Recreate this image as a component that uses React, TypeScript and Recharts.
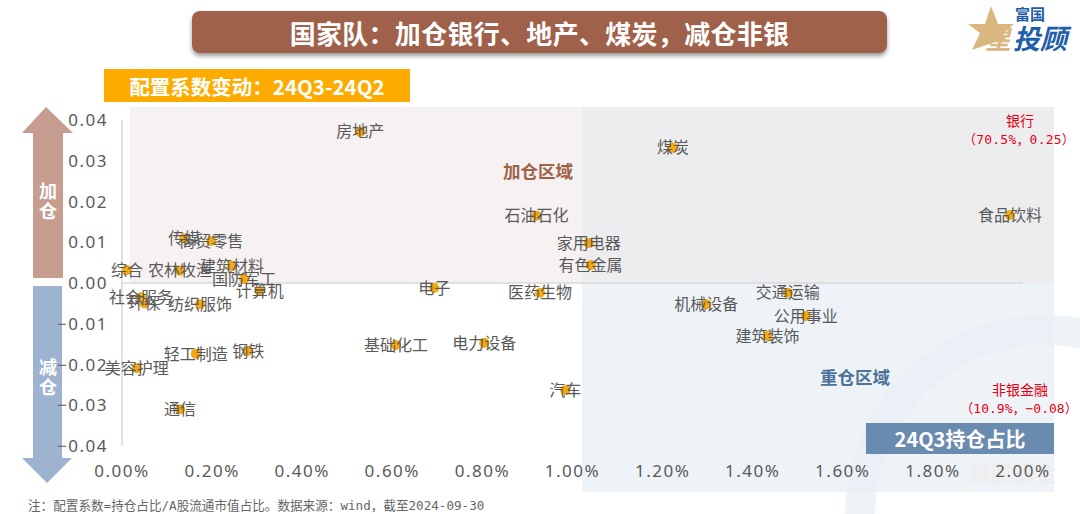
import { ScatterChart, Scatter, XAxis, YAxis, ZAxis, ReferenceLine, LabelList } from "recharts";

const sectors = [
  "房地产", "煤炭", "石油石化", "家用电器", "有色金属", "食品饮料", "传媒", "商贸零售",
  "建筑材料", "农林牧渔", "综合", "国防军工", "计算机", "电子", "医药生物", "社会服务",
  "环保", "纺织服饰", "美容护理", "轻工制造", "钢铁", "通信", "基础化工", "电力设备",
  "汽车", "机械设备", "交通运输", "公用事业", "建筑装饰",
];
// 24Q3 holding share, %
const holdings = [
  0.529, 1.223, 0.92, 1.036, 1.04, 1.971, 0.138, 0.198,
  0.244, 0.129, 0.011, 0.271, 0.306, 0.693, 0.928, 0.042,
  0.05, 0.173, 0.033, 0.164, 0.28, 0.129, 0.608, 0.804,
  0.984, 1.297, 1.478, 1.518, 1.433,
];
// allocation coefficient change, 24Q3-24Q2
const changes = [
  0.0371, 0.0332, 0.0165, 0.0098, 0.0044, 0.0167, 0.011, 0.0103,
  0.0042, 0.003, 0.0032, 0.001, -0.002, -0.0012, -0.0024, -0.0035,
  -0.005, -0.0052, -0.0209, -0.0174, -0.0167, -0.031, -0.0152, -0.0147,
  -0.0263, -0.0052, -0.0024, -0.0081, -0.013,
];
const xTicks = [0, 0.2, 0.4, 0.6, 0.8, 1, 1.2, 1.4, 1.6, 1.8, 2];
const yTicks = [-0.04, -0.03, -0.02, -0.01, 0, 0.01, 0.02, 0.03, 0.04];

const data = sectors.map((name, i) => ({ name, x: holdings[i], y: changes[i], z: 1 }));

// full-width punctuation, written as escapes so it stays full-width
const COLON = "\uFF1A";
const COMMA = "\uFF0C";
const titleText = "国家队" + COLON + "加仓银行、地产、煤炭" + COMMA + "减仓非银";
const subTitleText = "配置系数变动" + COLON + "24Q3-24Q2";
const noteText = "注" + COLON + "配置系数=持仓占比/A股流通市值占比。数据来源" + COLON + "wind" + COMMA + "截至2024-09-30";
const bankText = "\uFF0870.5%" + COMMA + "0.25\uFF09";
const nonBankText = "\uFF0810.9%" + COMMA + "\u22120.08\uFF09";

const cjk = '"Noto Sans CJK SC", sans-serif';
const mono = '"DejaVu Sans Mono", ' + cjk;
const tickStyle = { fontSize: 17, fill: "#595959", fontFamily: '"Noto Sans", sans-serif', letterSpacing: 1.5 };

function Box({ x, y, w, h, style, children }: any) {
  return (
    <div
      style={{
        position: "absolute",
        left: x,
        top: y,
        width: w,
        height: h,
        display: "flex",
        alignItems: "center",
        justifyContent: "center",
        fontFamily: cjk,
        whiteSpace: "nowrap",
        ...style,
      }}
    >
      {children}
    </div>
  );
}

function Decor() {
  return (
    <svg width={1080} height={514} style={{ position: "absolute", left: 0, top: 0 }}>
      <polygon points="46,107 73,133 63,133 63,278 33,278 33,133 22,133" fill="#c79d8f" />
      <polygon points="33,286 62,286 62,458 72,458 47,483 22,458 33,458" fill="#9db3cf" />
      {/* logo star */}
      <polygon points="991,6 998,24 1014,24 1003,33 1006,40 1000,40 972,50 980,33 968,24 985,24" fill="#d9b77e" />
    </svg>
  );
}

export default function App() {
  return (
    <div style={{ position: "absolute", left: 0, top: 0, width: 1080, height: 514, background: "#fff", overflow: "hidden" }}>
      {/* shaded regions and watermark */}
      <div style={{ position: "absolute", left: 130, top: 107, width: 924, height: 176, background: "#f5f2f1" }} />
      <div style={{ position: "absolute", left: 582, top: 107, width: 472, height: 176, background: "#ededef" }} />
      <svg width={1080} height={514} style={{ position: "absolute", left: 0, top: 0 }}>
        <circle cx={1045} cy={515} r={185} fill="none" stroke="#eef3f7" strokeWidth={30} />
      </svg>
      <div style={{ position: "absolute", left: 582, top: 283, width: 472, height: 209, background: "rgba(232,239,246,0.75)" }} />
      <Box x={960} y={458} w={105} h={26} style={{ fontSize: 22, fontWeight: 700, color: "#eeeeee" }}>富国基金</Box>

      <Decor />

      <div style={{ position: "absolute", left: 0, top: 0 }}>
        <ScatterChart
          width={1080}
          height={514}
          margin={{ top: 120, right: 57, bottom: 0, left: 62 }}
          style={{ fontFamily: cjk }}
        >
          <XAxis
            type="number"
            dataKey="x"
            domain={[0, 2]}
            ticks={xTicks}
            interval={0}
            height={68}
            axisLine={false}
            tickLine={false}
            tickMargin={13}
            tick={tickStyle}
            tickFormatter={(v: number) => v.toFixed(2) + "%"}
          />
          <YAxis
            type="number"
            dataKey="y"
            domain={[-0.04, 0.04]}
            ticks={yTicks}
            interval={0}
            width={60}
            axisLine={{ stroke: "#d9d9d9", strokeWidth: 1.5 }}
            tickLine={false}
            tickMargin={8}
            tick={tickStyle}
            tickFormatter={(v: number) => v.toFixed(2).replace("-", "\u2212")}
          />
          <ZAxis type="number" dataKey="z" range={[80, 80]} />
          <ReferenceLine y={0} stroke="#d9d9d9" strokeWidth={1.5} />
          <Scatter data={data} fill="#f5a90f" isAnimationActive={false}>
            <LabelList dataKey="name" position="center" fill="#595959" fontSize={16} fontFamily={cjk} />
          </Scatter>
        </ScatterChart>
      </div>

      {/* title bars */}
      <Box
        x={192}
        y={11}
        w={695}
        h={42}
        style={{ background: "#a0614a", borderRadius: 8, boxShadow: "0 3px 4px rgba(0,0,0,0.4)", color: "#fff", fontSize: 26, fontWeight: 700, letterSpacing: 0.3 }}
      >
        {titleText}
      </Box>
      <Box x={104} y={69} w={306} h={33} style={{ background: "#fdab00", color: "#fff", fontSize: 20.5, fontWeight: 700 }}>
        {subTitleText}
      </Box>
      <Box x={866} y={423} w={188} h={31} style={{ background: "#6a8bb0", color: "#fff", fontSize: 20, fontWeight: 700 }}>
        24Q3持仓占比
      </Box>

      {/* arrow captions */}
      <Box x={33} y={179} w={30} h={42} style={{ color: "#fff", fontSize: 18, fontWeight: 700, lineHeight: "20px", flexDirection: "column" }}>
        <span>加</span>
        <span>仓</span>
      </Box>
      <Box x={33} y={355} w={30} h={42} style={{ color: "#fff", fontSize: 18, fontWeight: 700, lineHeight: "20px", flexDirection: "column" }}>
        <span>减</span>
        <span>仓</span>
      </Box>

      {/* region names */}
      <Box x={488} y={158} w={100} h={24} style={{ color: "#a0614a", fontSize: 17.5, fontWeight: 700 }}>加仓区域</Box>
      <Box x={805} y={364} w={100} h={24} style={{ color: "#4f7299", fontSize: 17.5, fontWeight: 700 }}>重仓区域</Box>

      {/* outliers outside the axis range */}
      <Box x={990} y={111} w={60} h={18} style={{ color: "#e60012", fontSize: 14 }}>银行</Box>
      <Box x={959} y={129} w={120} h={18} style={{ color: "#e60012", fontSize: 13, fontFamily: mono, letterSpacing: 0.2 }}>{bankText}</Box>
      <Box x={980} y={380} w={80} h={18} style={{ color: "#e60012", fontSize: 14 }}>非银金融</Box>
      <Box x={958} y={398} w={122} h={18} style={{ color: "#e60012", fontSize: 13, fontFamily: mono }}>{nonBankText}</Box>

      {/* footnote */}
      <div style={{ position: "absolute", left: 28, top: 498, fontSize: 12.6, lineHeight: "15px", color: "#666", whiteSpace: "nowrap", fontFamily: mono }}>
        {noteText}
      </div>

      {/* logo text */}
      <Box x={1012} y={4} w={36} h={18} style={{ color: "#1f5ea8", fontSize: 15, fontWeight: 700 }}>富国</Box>
      <Box x={983} y={22} w={30} h={30} style={{ color: "#d9b77e", fontSize: 26, fontWeight: 700, fontStyle: "italic" }}>星</Box>
      <Box x={1012} y={22} w={56} h={30} style={{ color: "#1f5ea8", fontSize: 27, fontWeight: 700, fontStyle: "italic" }}>投顾</Box>
    </div>
  );
}
